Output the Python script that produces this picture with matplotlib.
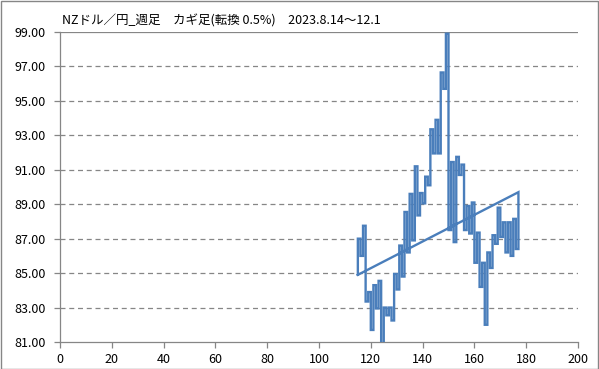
import matplotlib
matplotlib.use("Agg")
import matplotlib.pyplot as plt
from matplotlib.patches import Rectangle

plt.rcParams['font.family'] = ['Noto Sans CJK JP', 'DejaVu Sans']

title = "NZドル／円_週足　カギ足(転換 0.5%)　2023.8.14～12.1"

# kagi line: first x position, starting level, then the level reached by each vertical stroke
x_start = 115
start_level = 84.9
levels = [87.0, 86.0, 87.75, 83.35, 83.9, 81.7, 84.3, 82.95, 84.55, 80.9,
          83.0, 82.55, 83.0, 82.25, 84.95, 84.05, 86.6, 84.8, 88.55, 86.2,
          89.6, 86.9, 91.2, 88.35, 89.65, 89.05, 90.6, 90.1, 93.35, 91.95,
          93.9, 91.95, 96.65, 95.7, 98.9, 87.5, 91.45, 86.8, 91.75, 90.7,
          91.3, 87.5, 88.9, 87.3, 89.1, 85.6, 87.35, 84.2, 85.6, 82.0,
          86.2, 85.3, 87.2, 86.7, 88.8, 87.1, 87.95, 86.2, 87.95, 86.0,
          88.15, 86.4, 89.7]

x_ticks = list(range(0, 201, 20))
y_ticks = [81, 83, 85, 87, 89, 91, 93, 95, 97, 99]

# build the step path: vertical at each x, horizontal to the next x
xs = [x_start]
ys = [start_level]
for i, lv in enumerate(levels):
    x = x_start + i
    xs.append(x)
    ys.append(lv)
    if i < len(levels) - 1:
        xs.append(x + 1)
        ys.append(lv)
# closing segment back to the start point
xs.append(x_start)
ys.append(start_level)

fig = plt.figure(figsize=(5.99, 3.69), dpi=100)
ax = fig.add_axes([60 / 599, 27 / 369, 518 / 599, 310 / 369])

grey = '#868686'
for y in y_ticks[1:-1]:
    ax.axhline(y, color=grey, lw=0.9, ls=(0, (4, 3)), zorder=1)
ax.axhline(99, color=grey, lw=0.9, zorder=1)

ax.plot(xs, ys, color='#4A7EBB', lw=1.7, solid_joinstyle='miter', zorder=3)

ax.set_xlim(0, 200)
ax.set_ylim(81, 99)
ax.set_xticks(x_ticks)
ax.set_yticks(y_ticks)
ax.set_yticklabels([f"{v:.2f}" for v in y_ticks])

for s in ['top', 'right']:
    ax.spines[s].set_visible(False)
for s in ['left', 'bottom']:
    ax.spines[s].set_color(grey)
    ax.spines[s].set_linewidth(0.9)
ax.tick_params(axis='both', direction='out', length=4, color=grey,
               labelsize=9, labelcolor='black', width=0.9)
ax.tick_params(axis='y', pad=6)
ax.tick_params(axis='x', pad=4)

fig.text(62 / 599, 1 - 21 / 369, title, fontsize=9, va='center', ha='left')

fig.add_artist(Rectangle((0.5 / 599, 0.5 / 369), 597.5 / 599, 367.5 / 369,
                         transform=fig.transFigure, fill=False,
                         edgecolor=grey, lw=1))

fig.savefig('out.png', dpi=100)
